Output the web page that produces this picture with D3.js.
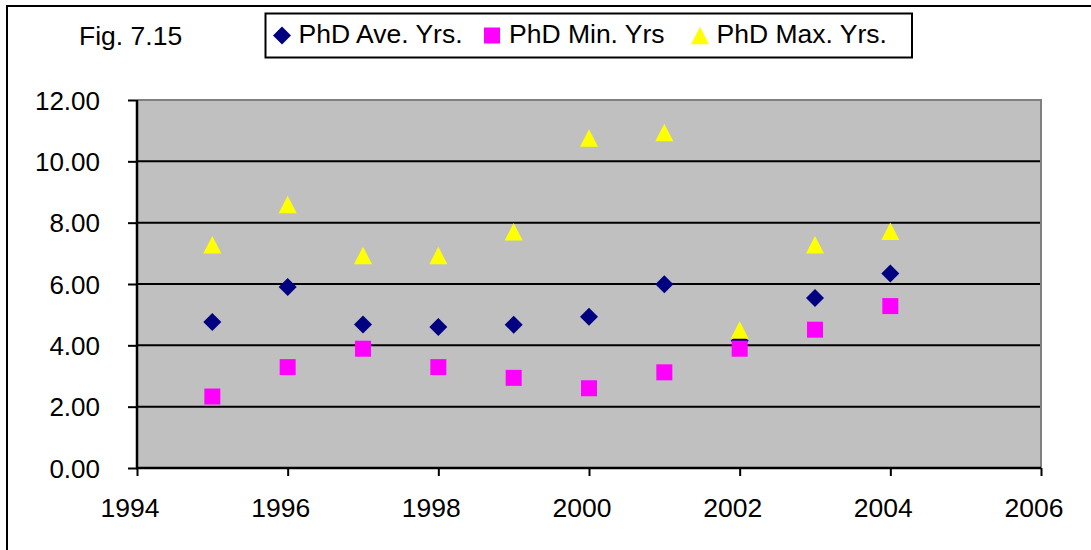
<!DOCTYPE html>
<html>
<head>
<meta charset="utf-8">
<script src="https://cdn.jsdelivr.net/npm/d3@7"></script>
<style>
  body { margin: 0; background: #fff; }
  svg text { font-family: "Liberation Sans", Arial, sans-serif; fill: #000; }
</style>
</head>
<body>
<svg width="1091" height="550"></svg>
<script>
// chart data
const years = [1995, 1996, 1997, 1998, 1999, 2000, 2001, 2002, 2003, 2004];
const aveYrs = [4.76, 5.90, 4.68, 4.60, 4.67, 4.93, 5.99, 4.15, 5.54, 6.34];
const minYrs = [2.33, 3.29, 3.89, 3.29, 2.94, 2.60, 3.12, 3.89, 4.51, 5.28];
const maxYrs = [7.28, 8.59, 6.93, 6.93, 7.70, 10.76, 10.94, 4.50, 7.28, 7.72];
const seriesNames = ['PhD Ave. Yrs.', 'PhD Min. Yrs', 'PhD Max. Yrs.'];
const xTicks = [1994, 1996, 1998, 2000, 2002, 2004, 2006];
const yTicks = [0, 2, 4, 6, 8, 10, 12];
const title = 'Fig. 7.15';

const svg = d3.select('svg');

// plot area bounds
const plotLeft = 137, plotRight = 1041, plotTop = 100, plotBottom = 468;

const x = d3.scaleLinear().domain([1994, 2006]).range([plotLeft, plotRight]);
const y = d3.scaleLinear().domain([0, 12]).range([plotBottom, plotTop]);

// marker shapes, centred on the point
const diamond = (s) => `M0,${-s}L${s},0L0,${s}L${-s},0Z`;
const square = (s) => `M${-s},${-s}H${s}V${s}H${-s}Z`;
const triangle = (w, h) => `M0,${-h / 2}L${w / 2},${h / 2}L${-w / 2},${h / 2}Z`;

const series = [
  { name: seriesNames[0], values: aveYrs, color: '#000080', path: diamond(9) },
  { name: seriesNames[1], values: minYrs, color: '#FF00FF', path: square(8) },
  { name: seriesNames[2], values: maxYrs, color: '#FFFF00', path: triangle(18, 17.5) },
];

// outer chart frame (runs off the right and bottom edge)
svg.append('rect')
  .attr('x', 7).attr('y', 6)
  .attr('width', 1200).attr('height', 700)
  .attr('fill', 'none')
  .attr('stroke', '#000')
  .attr('stroke-width', 2);

// plot background
svg.append('rect')
  .attr('x', plotLeft).attr('y', plotTop)
  .attr('width', plotRight - plotLeft).attr('height', plotBottom - plotTop)
  .attr('fill', '#C0C0C0');

// gridlines
svg.append('g')
  .selectAll('line')
  .data(yTicks.filter((d) => d > 0 && d < 12))
  .join('line')
  .attr('x1', plotLeft).attr('x2', plotRight)
  .attr('y1', (d) => y(d)).attr('y2', (d) => y(d))
  .attr('stroke', '#000')
  .attr('stroke-width', 2);

// gray top and right border of the plot area
svg.append('path')
  .attr('d', `M${plotLeft},${plotTop}H${plotRight}V${plotBottom}`)
  .attr('fill', 'none')
  .attr('stroke', '#808080')
  .attr('stroke-width', 2);

// y axis
const yAxis = svg.append('g')
  .attr('transform', `translate(${plotLeft},0)`)
  .call(d3.axisLeft(y).tickValues(yTicks).tickSize(9).tickSizeOuter(0).tickFormat(d3.format('.2f')));
yAxis.select('.domain').remove();
yAxis.selectAll('.tick line').attr('stroke', '#000').attr('stroke-width', 2);
yAxis.selectAll('.tick text')
  .attr('x', -37)
  .attr('dy', '0.35em')
  .style('font-size', '26px');

// x axis
const xAxis = svg.append('g')
  .attr('transform', `translate(0,${plotBottom})`)
  .call(d3.axisBottom(x).tickValues(xTicks).tickSize(8).tickSizeOuter(0).tickFormat(d3.format('d')));
xAxis.select('.domain').remove();
xAxis.selectAll('.tick line').attr('stroke', '#000').attr('stroke-width', 2);
xAxis.selectAll('.tick text')
  .attr('x', -7.5)
  .attr('y', 48.5)
  .attr('dy', 0)
  .style('font-size', '26.5px');

// axis lines
svg.append('path')
  .attr('d', `M${plotLeft},${plotTop}V${plotBottom}H${plotRight}`)
  .attr('fill', 'none')
  .attr('stroke', '#000')
  .attr('stroke-width', 2.5);

// markers
for (const s of series) {
  svg.append('g')
    .selectAll('path')
    .data(s.values)
    .join('path')
    .attr('d', s.path)
    .attr('transform', (d, i) => `translate(${x(years[i])},${y(d)})`)
    .attr('fill', s.color);
}

// title
svg.append('text')
  .attr('x', 79).attr('y', 45)
  .style('font-size', '26.5px')
  .text(title);

// legend
const legend = svg.append('g');
legend.append('rect')
  .attr('x', 265.5).attr('y', 13.5)
  .attr('width', 912 - 265.5).attr('height', 44)
  .attr('fill', '#fff')
  .attr('stroke', '#000')
  .attr('stroke-width', 2);

const legendMarkX = [282, 492, 700];
const legendTextX = [298.5, 509, 716.5];
series.forEach((s, i) => {
  legend.append('path')
    .attr('d', s.path)
    .attr('transform', `translate(${legendMarkX[i]},35.5)`)
    .attr('fill', s.color);
  legend.append('text')
    .attr('x', legendTextX[i]).attr('y', 43)
    .style('font-size', '26.5px')
    .text(s.name);
});
</script>
</body>
</html>
